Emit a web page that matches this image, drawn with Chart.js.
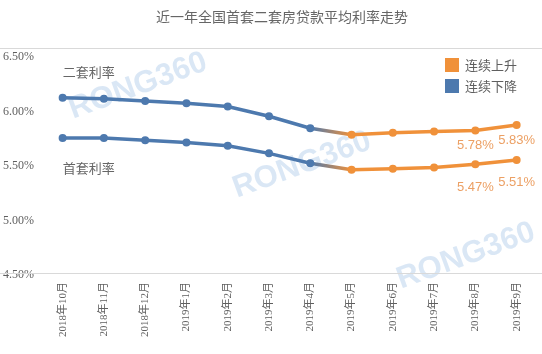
<!DOCTYPE html>
<html>
<head>
<meta charset="utf-8">
<script src="https://cdn.jsdelivr.net/npm/chart.js@4/dist/chart.umd.min.js"></script>
<style>
  body { margin: 0; background: #fff; }
  canvas { display: block; }
</style>
</head>
<body>
<canvas id="grafica" width="542" height="354"></canvas>
<script>
// Datos de la gráfica
const meses = ['2018年10月', '2018年11月', '2018年12月', '2019年1月', '2019年2月', '2019年3月',
  '2019年4月', '2019年5月', '2019年6月', '2019年7月', '2019年8月', '2019年9月'];
const segundaVivienda = [6.08, 6.07, 6.05, 6.03, 6.00, 5.91, 5.80, 5.74, 5.76, 5.77, 5.78, 5.83];
const primeraVivienda = [5.71, 5.71, 5.69, 5.67, 5.64, 5.57, 5.48, 5.42, 5.43, 5.44, 5.47, 5.51];
const nombresSeries = ['二套利率', '首套利率'];
const ticksY = [4.5, 5.0, 5.5, 6.0, 6.5];
const leyenda = ['连续上升', '连续下降'];
const mesesConEtiqueta = [10, 11];
const titulo = '近一年全国首套二套房贷款平均利率走势';

const AZUL = '#4d79ae';
const NARANJA = '#f0913a';
const GRIS = '#5f5f5f';
const ULTIMO_AZUL = 6; // desde 2019年4月 la curva pasa a naranja

const lienzo = document.getElementById('grafica');
const ctx2d = lienzo.getContext('2d');

function colorSegmento(c) {
    if (c.p0DataIndex < ULTIMO_AZUL) return AZUL;
    if (c.p0DataIndex > ULTIMO_AZUL) return NARANJA;
    const g = ctx2d.createLinearGradient(c.p0.x, 0, c.p1.x, 0);
    g.addColorStop(0, AZUL);
    g.addColorStop(1, NARANJA);
    return g;
}

function colorPuntos() {
    return meses.map((m, i) => i <= ULTIMO_AZUL ? AZUL : NARANJA);
}

function serie(nombre, datos) {
    return {
        label: nombre,
        data: datos,
        borderWidth: 3.5,
        pointRadius: 4,
        pointHoverRadius: 4,
        pointBorderWidth: 0,
        pointBackgroundColor: colorPuntos(),
        borderColor: AZUL,
        segment: { borderColor: colorSegmento },
        tension: 0,
        fill: false
    };
}

// Títulos, marcas de agua, leyenda y etiquetas
const decoracion = {
    id: 'decoracion',
    beforeDatasetsDraw(chart) {
        const c = chart.ctx;
        c.save();
        c.font = 'bold 31px "Liberation Sans", Arial, sans-serif';
        c.fillStyle = 'rgba(140, 180, 225, 0.32)';
        c.textAlign = 'center';
        c.textBaseline = 'middle';
        [[138, 86], [302, 165], [466, 256]].forEach(p => {
            c.save();
            c.translate(p[0], p[1]);
            c.rotate(-0.35);
            c.fillText('RONG360', 0, 0);
            c.restore();
        });
        c.restore();
    },
    afterDraw(chart) {
        const c = chart.ctx;
        c.save();
        // titulo
        c.font = '14px "Noto Sans CJK SC", sans-serif';
        c.fillStyle = '#666';
        c.textAlign = 'center';
        c.textBaseline = 'middle';
        c.fillText(titulo, 282, 17);

        // lineas de borde
        c.strokeStyle = '#d9d9d9';
        c.lineWidth = 1;
        c.beginPath();
        c.moveTo(0, 48.5); c.lineTo(542, 48.5);
        c.moveTo(0, 273.5); c.lineTo(542, 273.5);
        c.stroke();

        // leyenda
        c.textAlign = 'left';
        c.font = '13px "Noto Sans CJK SC", sans-serif';
        [[NARANJA, 58], [AZUL, 79]].forEach((it, i) => {
            c.fillStyle = it[0];
            c.fillRect(445, it[1], 14, 14);
            c.fillStyle = GRIS;
            c.fillText(leyenda[i], 465, it[1] + 7);
        });

        // nombres de las series junto al primer punto
        const m0 = chart.getDatasetMeta(0).data[0];
        const m1 = chart.getDatasetMeta(1).data[0];
        c.fillStyle = '#666';
        c.fillText(nombresSeries[0], m0.x, m0.y - 26);
        c.fillText(nombresSeries[1], m1.x, m1.y + 30);

        // valores de los ultimos meses
        c.textAlign = 'center';
        c.font = '13px "Liberation Sans", Arial, sans-serif';
        c.fillStyle = '#eca064';
        const offs = [15, 23];
        [0, 1].forEach(d => {
            const meta = chart.getDatasetMeta(d);
            mesesConEtiqueta.forEach(i => {
                const p = meta.data[i];
                const v = chart.data.datasets[d].data[i];
                c.fillText(v.toFixed(2) + '%', p.x, p.y + offs[d]);
            });
        });
        c.restore();
    }
};

const grafica = new Chart(ctx2d, {
    type: 'line',
    data: {
        labels: meses,
        datasets: [serie(nombresSeries[0], segundaVivienda), serie(nombresSeries[1], primeraVivienda)]
    },
    options: {
        responsive: false,
        animation: false,
        layout: { padding: { top: 52, right: 2, left: 3, bottom: 0 } },
        plugins: {
            legend: { display: false },
            tooltip: { enabled: false },
            title: { display: false }
        },
        scales: {
            x: {
                offset: true,
                grid: { display: false, drawTicks: false },
                border: { display: false },
                ticks: {
                    maxRotation: 90,
                    minRotation: 90,
                    padding: 12,
                    color: GRIS,
                    font: { family: '"Liberation Serif", "Noto Sans CJK SC", serif', size: 11 }
                },
                afterFit(axis) { axis.height = 84; }
            },
            y: {
                min: 4.5,
                max: 6.5,
                afterBuildTicks(axis) { axis.ticks = ticksY.map(v => ({ value: v })); },
                grid: { display: false, drawTicks: false },
                border: { display: false },
                ticks: {
                    crossAlign: 'far',
                    padding: 0,
                    labelOffset: 5,
                    color: GRIS,
                    font: { family: '"Liberation Serif", serif', size: 12 },
                    callback: v => v.toFixed(2) + '%'
                },
                afterFit(axis) { axis.width = 39; }
            }
        }
    },
    plugins: [decoracion]
});
</script>
</body>
</html>
